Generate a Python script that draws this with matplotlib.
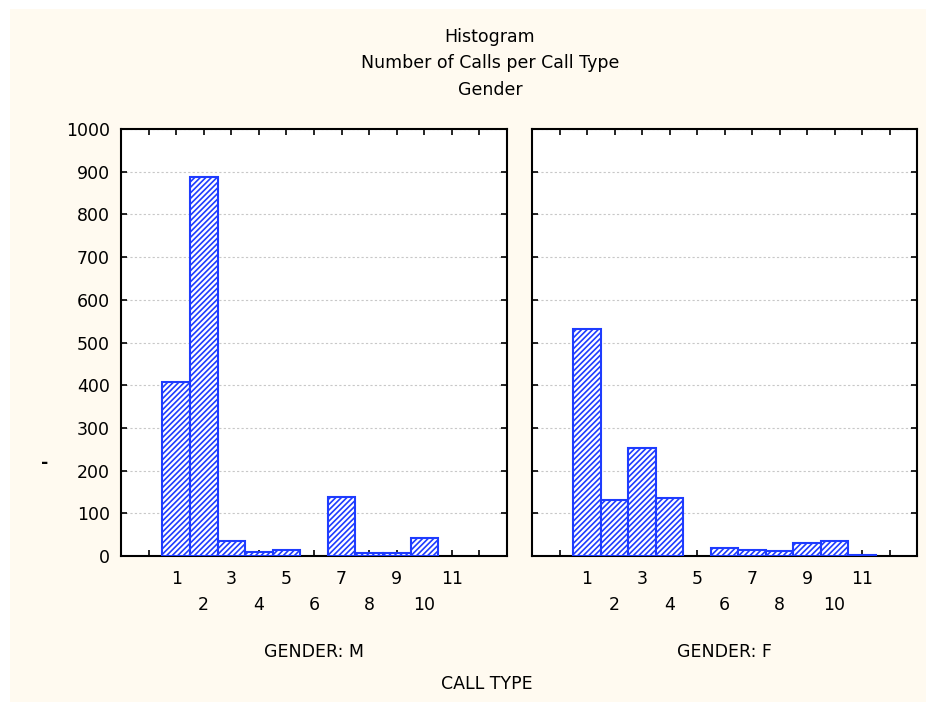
import matplotlib.pyplot as plt
from matplotlib.patches import Rectangle

plt.rcParams['font.family'] = ['DejaVu Sans']
plt.rcParams['hatch.color'] = '#7891ff'
plt.rcParams['hatch.linewidth'] = 1.2

call_types = [1, 2, 3, 4, 5, 6, 7, 8, 9, 10, 11]
calls_m = [408, 887, 35, 9, 13, 0, 138, 6, 6, 41, 0]
calls_f = [532, 132, 252, 137, 0, 19, 14, 11, 30, 35, 2]
panel_labels = ["GENDER: M", "GENDER: F"]
title_lines = ["Histogram", "Number of Calls per Call Type", "Gender"]
y_ticks = list(range(0, 1001, 100))

W, H = 926, 702
FS = 12.5
bg = '#fffaf0'
edge = '#1e3cff'

fig = plt.figure(figsize=(W / 100, H / 100), dpi=100, facecolor='white')
fig.patches.append(Rectangle((10 / W, 0), 1 - 10 / W, 1 - 9 / H,
                             transform=fig.transFigure, facecolor=bg,
                             edgecolor='none', zorder=-10))


def px_axes(x0, x1, top, bottom):
    return fig.add_axes([x0 / W, 1 - bottom / H, (x1 - x0) / W, (bottom - top) / H])


panels = [(px_axes(121, 507, 129, 556), calls_m),
          (px_axes(532, 917, 129, 556), calls_f)]

for i, (ax, counts) in enumerate(panels):
    ax.set_facecolor('white')
    # empty classes get no box at all
    xs = [c for c, n in zip(call_types, counts) if n > 0]
    hs = [n for n in counts if n > 0]
    ax.bar(xs, hs, width=1.0, color='white', edgecolor=edge,
           linewidth=1.5, hatch='//////', zorder=3)
    ax.set_xlim(-1, 13)
    ax.set_ylim(0, 1000)
    ax.set_yticks(y_ticks)
    ax.yaxis.grid(True, color='#c8c8c8', linestyle=(0, (2, 2)), linewidth=0.8, zorder=0)
    for s in ax.spines.values():
        s.set_linewidth(1.5)
    # odd call types on the first row, even ones on a lower row
    odd = [c for c in range(0, 13) if c % 2 == 1]
    even = [c for c in range(0, 13) if c % 2 == 0]
    ax.set_xticks(odd)
    ax.set_xticklabels([str(c) if c in call_types else '' for c in odd])
    ax.set_xticks(even, minor=True)
    ax.set_xticklabels([str(c) if c in call_types else '' for c in even], minor=True)
    ax.tick_params(axis='x', which='major', direction='in', top=True, length=4,
                   width=1.2, pad=10, labelsize=FS)
    ax.tick_params(axis='x', which='minor', direction='in', top=True, length=4,
                   width=1.2, pad=29, labelsize=FS)
    ax.tick_params(axis='y', direction='in', right=True, length=4, width=1.2,
                   pad=8, labelsize=FS, labelleft=(i == 0))
    ax.text(0.5, -0.225, panel_labels[i], transform=ax.transAxes,
            ha='center', va='center', fontsize=FS)

for line, y in zip(title_lines, [37, 63, 90]):
    fig.text(490 / W, 1 - y / H, line, ha='center', va='center', fontsize=FS)

fig.text(487 / W, 1 - 684 / H, "CALL TYPE", ha='center', va='center', fontsize=FS)
fig.text(45 / W, 1 - 463 / H, "-", ha='center', va='center', fontsize=FS,
         fontweight='bold')

fig.savefig('out.png', dpi=100, facecolor=fig.get_facecolor())
